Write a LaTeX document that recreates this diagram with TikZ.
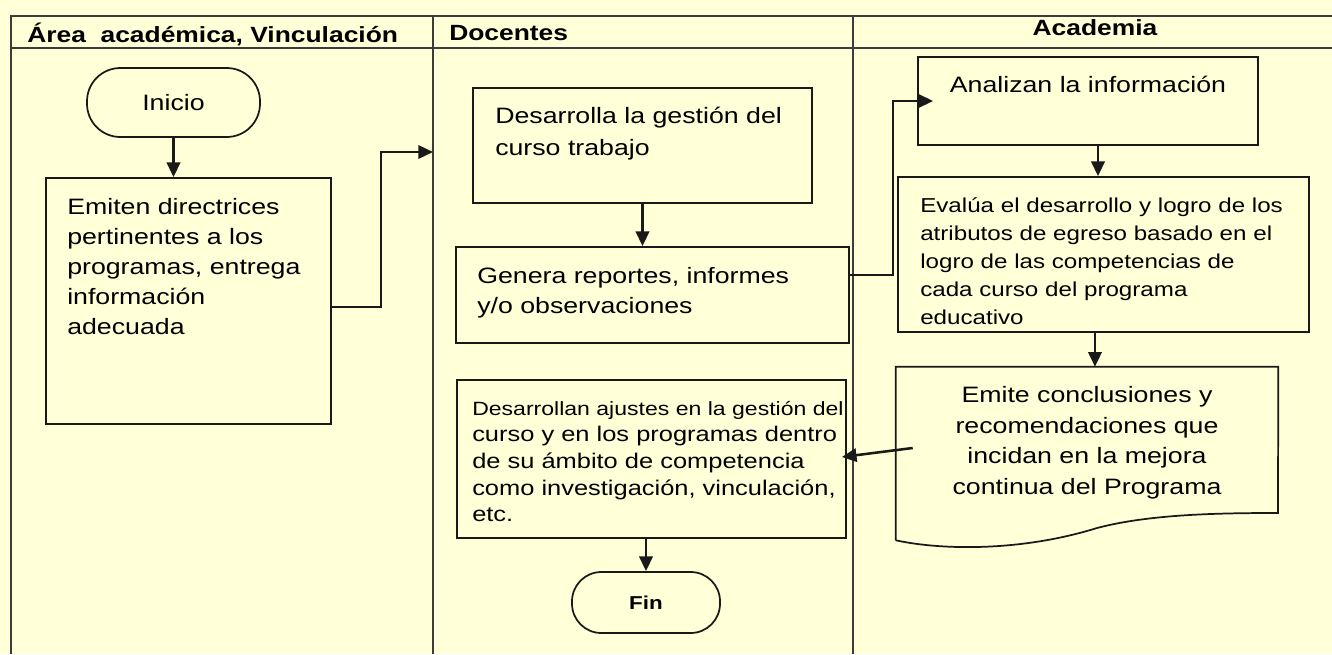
\documentclass[tikz,border=0pt]{standalone}
\usepackage{fontspec}
\setmainfont[FakeStretch=1.2]{Liberation Sans}
\usetikzlibrary{arrows.meta,calc}
\definecolor{bg}{RGB}{255,255,216}
\definecolor{ink}{RGB}{25,25,25}
\begin{document}
\begin{tikzpicture}[x=0.75pt,y=-0.75pt,
  lane/.style={draw=ink!85,line width=0.9pt},
  box/.style={draw=ink,line width=1.3pt,inner sep=0pt},
  sz/.style 2 args={minimum width=#1*0.75pt,minimum height=#2*0.75pt},
  conn/.style={draw=ink,line width=1.9pt,-{Triangle[length=11pt,width=10pt]}},
  txt/.style={inner sep=0pt,align=left,anchor=north west,font=\fontsize{16.7}{22.5}\selectfont},
  ctxt/.style={inner sep=0pt,align=center,anchor=north,font=\fontsize{16.7}{23}\selectfont},
  hdr/.style={inner sep=0pt,anchor=base west,font=\bfseries\fontsize{16.5}{20}\selectfont}]
\useasboundingbox (0,0) rectangle (1332,654);
\fill[bg] (0,0) rectangle (1332,654);
% swimlanes
\draw[lane] (1332,16) -- (11,16) -- (11,654);
\draw[lane] (11,48) -- (1332,48);
\draw[lane] (433,16) -- (433,654);
\draw[lane] (853,16) -- (853,654);
\node[hdr] (h1) at (27,42) {Área\ \ académica, Vinculación};
\node[hdr] (h2) at (449,40) {Docentes};
\node[hdr,anchor=base] (h3) at (1095,35) {Academia};
% lane 1
\node[box,sz={173}{69},rounded corners=25pt,font=\fontsize{16.7}{20}\selectfont] (inicio) at (173.5,102.5) {Inicio};
\node[box,sz={285}{246}] (emiten) at (188.5,301) {};
\node[txt] (emitenT) at (67,198) {Emiten directrices\\pertinentes a los\\programas, entrega\\información\\adecuada};
\coordinate (lanein) at (433,152);
% lane 2
\node[box,sz={339}{115}] (desarrolla) at (642.5,145.5) {};
\node[txt,font=\fontsize{16.7}{24}\selectfont] (desarrollaT) at (495,107) {Desarrolla la gestión del\\curso trabajo};
\node[box,sz={393}{96}] (genera) at (652.5,295) {};
\node[txt] (generaT) at (477,267) {Genera reportes, informes\\y/o observaciones};
\node[box,sz={389}{158}] (ajustes) at (651.5,459) {};
\node[txt,font=\fontsize{15.9}{19.9}\selectfont] (ajustesT) at (472,401) {{\fontsize{14.4}{19.9}\selectfont Desarrollan ajustes en la gestión del}\\curso y en los programas dentro\\de su ámbito de competencia\\como investigación, vinculación,\\etc.};
\node[box,sz={148}{61},rounded corners=22pt,font=\bfseries\fontsize{14}{16}\selectfont] (fin) at (646,602.5) {Fin};
% lane 3
\node[box,sz={340}{88}] (analizan) at (1088,101) {};
\node[ctxt] (analizanT) at (1088,76) {Analizan la información};
\node[box,sz={411}{155}] (evalua) at (1103.5,254.5) {};
\node[txt,font=\fontsize{15.1}{21}\selectfont] (evaluaT) at (920,197) {Evalúa el desarrollo y logro de los\\atributos de egreso basado en el\\logro de las competencias de\\cada curso del programa\\educativo};
\node[inner sep=0pt,sz={382}{173}] (emite) at (1087,453.5) {};
\draw[ink,line width=1.3pt] (emite.south west) -- (emite.north west) -- (emite.north east) -- (1278,513)
  .. controls (1220,513) and (1150,514) .. (1097,528)
  .. controls (1020,552) and (940,550) .. (emite.south west);
\node[ctxt] (emiteT) at (1087,386) {Emite conclusiones y\\recomendaciones que\\incidan en la mejora\\continua del Programa};
% connectors
\draw[conn] (inicio.south) -- (inicio.south |- emiten.north);
\draw[conn] ([yshift=-4.5pt]emiten.east) -- ++(49,0) |- (lanein);
\draw[conn] (desarrolla.south) -- (desarrolla.south |- genera.north);
\draw[conn] ([yshift=15pt]genera.east) -- ++(43,0) |- ([xshift=12pt]analizan.west);
\draw[conn] ([xshift=7.5pt]analizan.south) -- ([xshift=7.5pt]analizan.south |- evalua.north);
\draw[conn] ([xshift=-6.4pt]evalua.south) -- ([xshift=-6.4pt]evalua.south |- emite.north);
\draw[conn] ([shift={(17,-5.5)}]emite.west) -- ([shift={(-5,-2)}]ajustes.east);
\draw[conn] (fin.north |- ajustes.south) -- (fin.north);
\end{tikzpicture}
\end{document}
